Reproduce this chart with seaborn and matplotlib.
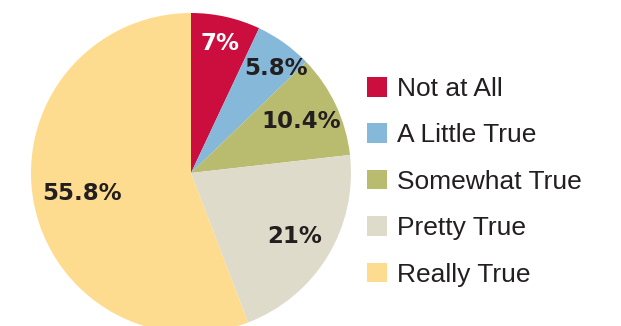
import numpy as np
import matplotlib
matplotlib.use("Agg")
import matplotlib.pyplot as plt
import seaborn as sns
from matplotlib.patches import Patch

categories = ["Not at All", "A Little True", "Somewhat True", "Pretty True", "Really True"]
values = [7, 5.8, 10.4, 21, 55.8]
labels = ["7%", "5.8%", "10.4%", "21%", "55.8%"]
colors = ["#CC0E3E", "#86B8DA", "#B9BC6E", "#DEDBCB", "#FEDC8F"]
label_colors = ["white", "#231F20", "#231F20", "#231F20", "#231F20"]
label_dist = [0.83, 0.84, 0.76, 0.76, 0.69]
label_turn = [0, -3.5, 0, 0, 0]

sns.set_theme(style="white")
plt.rcParams["font.family"] = ["Liberation Sans", "DejaVu Sans"]

W, H = 621, 326
fig = plt.figure(figsize=(W / 100, H / 100), dpi=100)
fig.patch.set_facecolor("white")

cx, cy, r = 191, 326 - 173, 160
ax = fig.add_axes([(cx - r) / W, (cy - r) / H, 2 * r / W, 2 * r / H])
wedges, _ = ax.pie(values, colors=colors, startangle=90, counterclock=False,
                   radius=1, wedgeprops=dict(linewidth=0))
ax.set_xlim(-1, 1)
ax.set_ylim(-1, 1)
ax.set_aspect("equal")
ax.axis("off")

for w, lab, c, d, t in zip(wedges, labels, label_colors, label_dist, label_turn):
    ang = np.deg2rad((w.theta1 + w.theta2) / 2 + t)
    ax.text(d * np.cos(ang), d * np.sin(ang), lab, ha="center", va="center",
            fontsize=16.5, fontweight="heavy", color=c,
            family=["DejaVu Sans"])

handles = [Patch(facecolor=c, edgecolor="none") for c in colors]
fig.legend(handles, categories, loc="upper left",
           bbox_to_anchor=(367 / W, 1 - 77 / H), frameon=False,
           fontsize=19, handlelength=0.76, handleheight=0.76,
           handletextpad=0.36, labelspacing=0.85, borderpad=0,
           borderaxespad=0, labelcolor="#231F20")

fig.savefig("out.png", dpi=100, facecolor="white")
